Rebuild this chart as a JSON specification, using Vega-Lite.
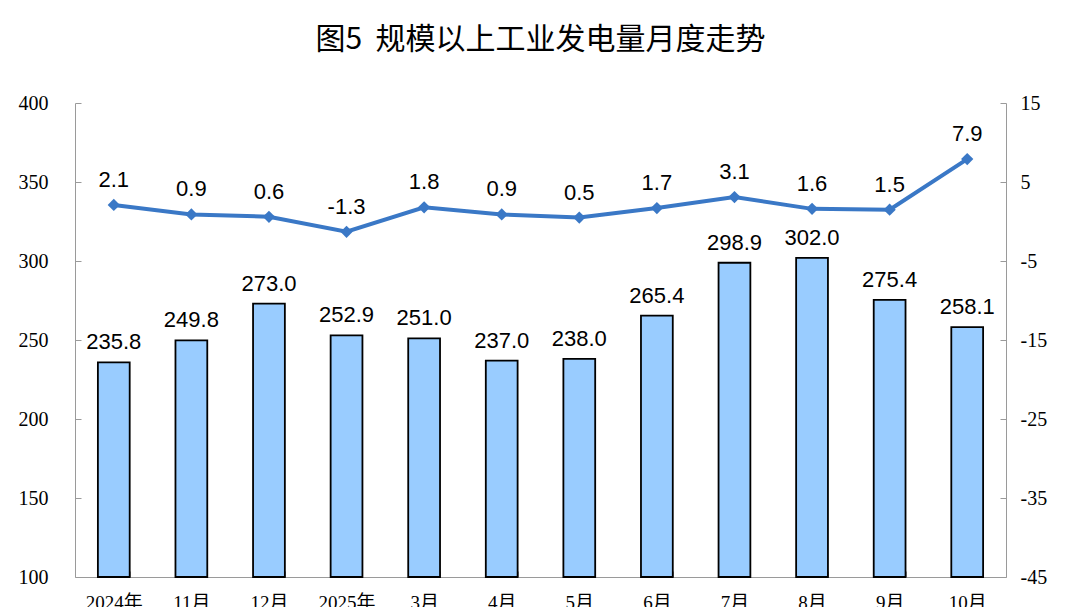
{
  "$schema": "https://vega.github.io/schema/vega-lite/v6.json",
  "autosize": {"type": "none"},
  "width": 931,
  "height": 474,
  "padding": {"left": 75, "top": 103, "right": 74, "bottom": 30},
  "background": "white",
  "title": {
    "text": "图5\u00a0\u00a0规模以上工业发电量月度走势",
    "font": "Noto Sans CJK SC",
    "fontSize": 30,
    "fontWeight": "normal",
    "color": "#000000",
    "anchor": "middle",
    "offset": 38
  },
  "config": {
    "view": {"stroke": null},
    "axis": {"grid": false, "domainColor": "#9a9a9a", "tickColor": "#9a9a9a", "labelColor": "#000000"}
  },
  "data": {
    "values": [
      {"month": "2024年", "output": 235.8, "growth": 2.1},
      {"month": "11月", "output": 249.8, "growth": 0.9},
      {"month": "12月", "output": 273.0, "growth": 0.6},
      {"month": "2025年", "output": 252.9, "growth": -1.3},
      {"month": "3月", "output": 251.0, "growth": 1.8},
      {"month": "4月", "output": 237.0, "growth": 0.9},
      {"month": "5月", "output": 238.0, "growth": 0.5},
      {"month": "6月", "output": 265.4, "growth": 1.7},
      {"month": "7月", "output": 298.9, "growth": 3.1},
      {"month": "8月", "output": 302.0, "growth": 1.6},
      {"month": "9月", "output": 275.4, "growth": 1.5},
      {"month": "10月", "output": 258.1, "growth": 7.9}
    ]
  },
  "encoding": {
    "x": {
      "field": "month",
      "type": "nominal",
      "sort": null,
      "scale": {"paddingInner": 0.59, "paddingOuter": 0.295},
      "axis": {
        "title": null,
        "labelAngle": 0,
        "labelFont": "Liberation Serif, Noto Sans CJK SC",
        "labelFontSize": 19,
        "tickBand": "extent",
        "tickSize": -6,
        "labelPadding": 22,
        "domainColor": "#9a9a9a"
      }
    }
  },
  "layer": [
    {
      "layer": [
        {
          "mark": {"type": "bar", "fill": "#99ccff", "stroke": "#000000", "strokeWidth": 1.8},
          "encoding": {
            "y": {
              "field": "output",
              "type": "quantitative",
              "scale": {"domain": [100, 400], "zero": false, "nice": false},
              "axis": {
                "title": null,
                "values": [100, 150, 200, 250, 300, 350, 400],
                "labelFont": "Liberation Serif",
                "labelFontSize": 20,
                "tickSize": -6,
                "labelPadding": 33
              }
            },
            "y2": {"datum": 100}
          }
        },
        {
          "mark": {"type": "text", "font": "Liberation Sans", "fontSize": 22, "baseline": "bottom", "dy": -8, "color": "#000000"},
          "encoding": {
            "y": {"field": "output", "type": "quantitative"},
            "text": {"field": "output", "type": "quantitative", "format": ".1f"}
          }
        }
      ]
    },
    {
      "layer": [
        {
          "mark": {"type": "line", "color": "#3a78c6", "strokeWidth": 4},
          "encoding": {
            "y": {
              "field": "growth",
              "type": "quantitative",
              "scale": {"domain": [-45, 15], "nice": false},
              "axis": {
                "title": null,
                "orient": "right",
                "values": [-45, -35, -25, -15, -5, 5, 15],
                "labelExpr": "'' + datum.value",
                "labelFont": "Liberation Serif",
                "labelFontSize": 20,
                "tickSize": -6,
                "labelPadding": 20
              }
            }
          }
        },
        {
          "mark": {"type": "point", "shape": "diamond", "filled": true, "color": "#3a78c6", "size": 150, "opacity": 1},
          "encoding": {"y": {"field": "growth", "type": "quantitative"}}
        },
        {
          "mark": {"type": "text", "font": "Liberation Sans", "fontSize": 22, "baseline": "bottom", "dy": -13, "color": "#000000"},
          "encoding": {
            "y": {"field": "growth", "type": "quantitative"},
            "text": {"field": "growth", "type": "nominal"}
          }
        }
      ]
    }
  ],
  "resolve": {"scale": {"y": "independent"}}
}
